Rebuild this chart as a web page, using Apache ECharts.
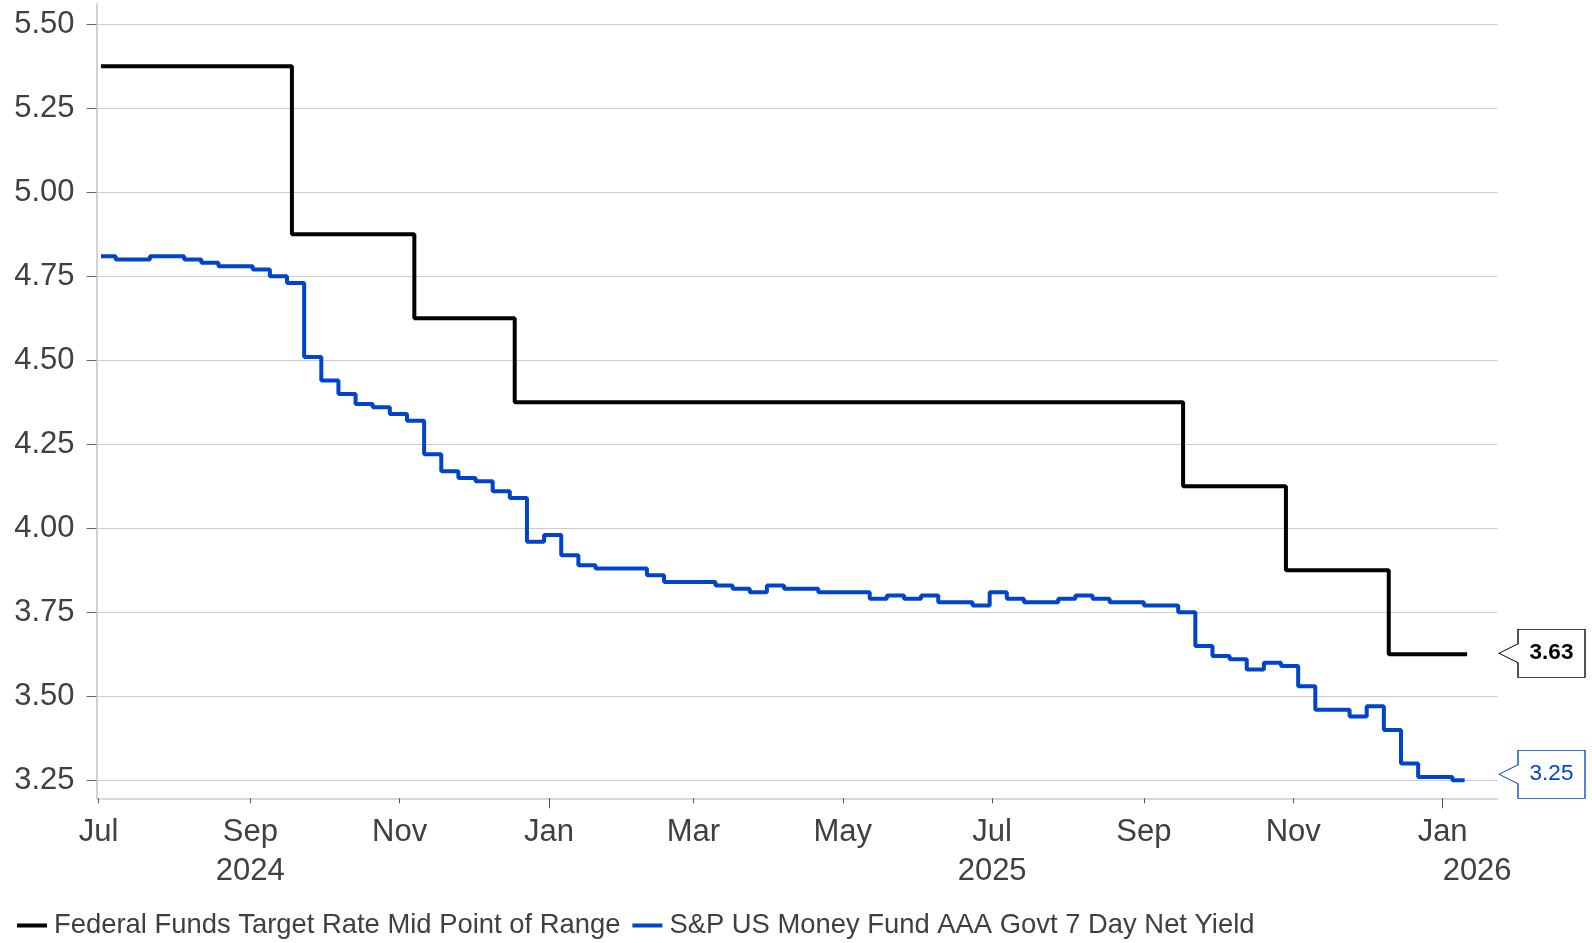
<!DOCTYPE html>
<html>
<head>
<meta charset="utf-8">
<script src="https://cdn.jsdelivr.net/npm/echarts@6/dist/echarts.min.js"></script>
<style>
  html, body { margin: 0; padding: 0; background: #ffffff; }
  #chart { width: 1592px; height: 943px; }
</style>
</head>
<body>
<div id="chart"></div>
<script>
// Federal Funds target rate, mid point of range (change dates)
const fedDates  = ['2024-07-02', '2024-09-18', '2024-11-07', '2024-12-18', '2025-09-17', '2025-10-29', '2025-12-10', '2026-01-11'];
const fedValues = [5.375, 4.875, 4.625, 4.375, 4.125, 3.875, 3.625, 3.625];

// S&P US Money Fund AAA Govt 7 day net yield (weekly change dates)
const mmfDates = [
  '2024-07-02', '2024-07-08', '2024-07-22', '2024-08-05', '2024-08-12', '2024-08-19', '2024-09-02', '2024-09-09',
  '2024-09-16', '2024-09-23', '2024-09-30', '2024-10-07', '2024-10-14', '2024-10-21', '2024-10-28', '2024-11-04',
  '2024-11-11', '2024-11-18', '2024-11-25', '2024-12-02', '2024-12-09', '2024-12-16', '2024-12-23', '2024-12-30',
  '2025-01-06', '2025-01-13', '2025-01-20', '2025-02-10', '2025-02-17', '2025-03-10', '2025-03-17', '2025-03-24',
  '2025-03-31', '2025-04-07', '2025-04-21', '2025-05-12', '2025-05-19', '2025-05-26', '2025-06-02', '2025-06-09',
  '2025-06-23', '2025-06-30', '2025-07-07', '2025-07-14', '2025-07-28', '2025-08-04', '2025-08-11', '2025-08-18',
  '2025-09-01', '2025-09-15', '2025-09-22', '2025-09-29', '2025-10-06', '2025-10-13', '2025-10-20', '2025-10-27',
  '2025-11-03', '2025-11-10', '2025-11-24', '2025-12-01', '2025-12-08', '2025-12-15', '2025-12-22', '2026-01-05',
  '2026-01-10'
];
const mmfValues = [
  4.81, 4.80, 4.81, 4.80, 4.79, 4.78, 4.77, 4.75,
  4.73, 4.51, 4.44, 4.40, 4.37, 4.36, 4.34, 4.32,
  4.22, 4.17, 4.15, 4.14, 4.11, 4.09, 3.96, 3.98,
  3.92, 3.89, 3.88, 3.86, 3.84, 3.83, 3.82, 3.81,
  3.83, 3.82, 3.81, 3.79, 3.80, 3.79, 3.80, 3.78,
  3.77, 3.81, 3.79, 3.78, 3.79, 3.80, 3.79, 3.78,
  3.77, 3.75, 3.65, 3.62, 3.61, 3.58, 3.60, 3.59,
  3.53, 3.46, 3.44, 3.47, 3.40, 3.30, 3.26, 3.25,
  3.25
];

const seriesNames = ['Federal Funds Target Rate Mid Point of Range', 'S&P US Money Fund AAA Govt 7 Day Net Yield'];
const yTicks = [3.25, 3.50, 3.75, 4.00, 4.25, 4.50, 4.75, 5.00, 5.25, 5.50];
const xTickDates = ['2024-07-01', '2024-09-01', '2024-11-01', '2025-01-01', '2025-03-01', '2025-05-01',
                    '2025-07-01', '2025-09-01', '2025-11-01', '2026-01-01'];
const yearTickDates = ['2025-01-01', '2026-01-01'];
const yearLabelDates = ['2024-09-01', '2025-07-01', '2026-01-01'];
const yearLabelTexts = ['2024', '2025', '2026'];
const monthNames = ['Jan', 'Feb', 'Mar', 'Apr', 'May', 'Jun', 'Jul', 'Aug', 'Sep', 'Oct', 'Nov', 'Dec'];

const FONT = "'Liberation Sans', Arial, Helvetica, sans-serif";
const TEXT = '#404040';
const BLACK = '#000000';
const BLUE = '#0044cc';
const AXIS_FONT = 31;
const LEGEND_FONT = 27.4;
const LINE_WIDTH = 4;

function ts(s) {
  const p = s.split('-').map(Number);
  return new Date(p[0], p[1] - 1, p[2]).getTime();
}
const xMin = new Date(2024, 5, 30, 4, 20).getTime();
const xMax = new Date(2026, 0, 23, 10, 0).getTime();

const fedData = fedDates.map((d, i) => [ts(d), fedValues[i]]);
const mmfData = mmfDates.map((d, i) => [ts(d), mmfValues[i]]);
const xTicks = xTickDates.map(ts);
const yearTicks = yearTickDates.map(ts);
const yearLabelTs = yearLabelDates.map(ts);

// Callout box with a pointer on its left side
const calloutPath = 'path://M0,24L19,14.5L19,0L86,0L86,48L19,48L19,33.5Z';

function callout(color, value, dy, bold) {
  return {
    symbol: calloutPath,
    symbolSize: [86, 48],
    symbolOffset: [44.5, dy],
    silent: true,
    animation: false,
    itemStyle: { color: '#ffffff', borderColor: color, borderWidth: 1 },
    label: {
      show: true, position: 'inside', offset: [9.5, 0],
      formatter: p => Number(p.value).toFixed(2),
      fontFamily: FONT, fontSize: 22.5, fontWeight: bold ? 'bold' : 'normal', color: color
    },
    data: [{ coord: [xMax, value], value: value }]
  };
}

function monthLabel(val) {
  const d = new Date(val);
  const m = '{m|' + monthNames[d.getMonth()] + '}';
  const yi = yearLabelTs.indexOf(new Date(d.getFullYear(), d.getMonth(), d.getDate()).getTime());
  if (yi < 0) return m;
  const style = yi === yearLabelTs.length - 1 ? 'ye' : 'y';
  return m + '\n{' + style + '|' + yearLabelTexts[yi] + '}';
}

const chart = echarts.init(document.getElementById('chart'), null, { renderer: 'canvas' });

chart.setOption({
  animation: false,
  backgroundColor: '#ffffff',
  grid: { left: 96.5, right: 94.5, top: 4, bottom: 144.7, containLabel: false },
  legend: {
    left: 12, top: 907,
    icon: 'rect', itemWidth: 30, itemHeight: 4, itemGap: 12,
    textStyle: { fontFamily: FONT, fontSize: LEGEND_FONT, color: TEXT, padding: [0, 0, 0, 2] },
    data: seriesNames
  },
  xAxis: [
    {
      type: 'value', min: xMin, max: xMax,
      axisLine: { show: true, lineStyle: { color: '#cccccc', width: 1.5 } },
      axisTick: { show: true, length: 5, lineStyle: { color: '#555555', width: 1 }, customValues: xTicks },
      axisLabel: {
        customValues: xTicks,
        margin: 15,
        fontFamily: FONT, fontSize: AXIS_FONT, color: TEXT,
        formatter: monthLabel,
        rich: {
          m: { fontFamily: FONT, fontSize: AXIS_FONT, color: TEXT, lineHeight: 39 },
          y: { fontFamily: FONT, fontSize: AXIS_FONT, color: TEXT, lineHeight: 39 },
          ye: { fontFamily: FONT, fontSize: AXIS_FONT, color: TEXT, lineHeight: 39, padding: [0, 0, 0, 69] }
        }
      },
      splitLine: { show: false }
    },
    {
      type: 'value', min: xMin, max: xMax, position: 'bottom',
      axisLine: { show: false },
      axisTick: { show: true, length: 10, lineStyle: { color: '#555555', width: 1 }, customValues: yearTicks },
      axisLabel: { show: false, customValues: yearTicks },
      splitLine: { show: false }
    }
  ],
  yAxis: {
    type: 'value', min: 3.1964, max: 5.5604,
    axisLine: { show: true, lineStyle: { color: '#d3d3d3', width: 2 } },
    axisTick: { show: true, length: 10, lineStyle: { color: '#666666', width: 1 }, customValues: yTicks },
    axisLabel: {
      customValues: yTicks, margin: 22,
      fontFamily: FONT, fontSize: AXIS_FONT, color: TEXT,
      formatter: v => Number(v).toFixed(2)
    },
    splitLine: { show: true, lineStyle: { color: '#cccccc', width: 1 } }
  },
  series: [
    {
      name: seriesNames[0], type: 'line', step: 'end', data: fedData,
      xAxisIndex: 0, showSymbol: false, clip: false,
      color: BLACK, lineStyle: { color: BLACK, width: LINE_WIDTH },
      markPoint: callout(BLACK, fedValues[fedValues.length - 1], -1, true),
      z: 3
    },
    {
      name: seriesNames[1], type: 'line', step: 'end', data: mmfData,
      xAxisIndex: 0, showSymbol: false, clip: false,
      color: BLUE, lineStyle: { color: BLUE, width: LINE_WIDTH },
      markPoint: callout(BLUE, mmfValues[mmfValues.length - 1], -6, false),
      z: 2
    }
  ]
});
</script>
</body>
</html>
